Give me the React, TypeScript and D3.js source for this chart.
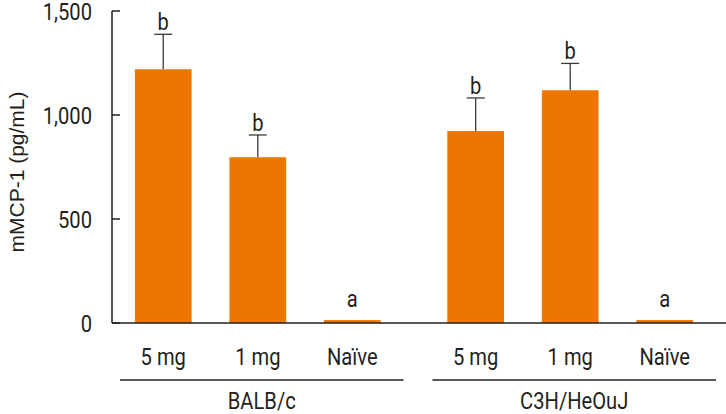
import React from "react";
import * as d3 from "d3";

const groups = ["BALB/c", "C3H/HeOuJ"];
const doses = ["5 mg", "1 mg", "Naïve"];
const meansBALB = [1220, 797, 14];
const meansC3H = [923, 1119, 14];
const semBALB = [168, 107, 0];
const semC3H = [159, 129, 0];
const lettersBALB = ["b", "b", "a"];
const lettersC3H = ["b", "b", "a"];
const yTicks = [0, 500, 1000, 1500];

const W = 726;
const H = 414;
const COND = "Roboto, 'Noto Sans', sans-serif";
const SANS = "'Liberation Sans', Arial, sans-serif";
const ORANGE = "#ED7600";
const INK = "#231f20";
const SX = 0.84;

function CText({ x, y, anchor = "middle", dy, size = 24, children }: any) {
  return (
    <text
      transform={`translate(${x},${y}) scale(${SX},1)`}
      dy={dy}
      textAnchor={anchor}
      fontFamily={COND}
      fontSize={size}
      fill={INK}
    >
      {children}
    </text>
  );
}

export default function App() {
  const y = d3.scaleLinear().domain([0, 1500]).range([323, 11]);
  const xGroup = d3.scaleBand<string>().domain(groups).range([116, 712]).paddingInner(0.0923).paddingOuter(0);
  const xDose = d3.scaleBand<string>().domain(doses).range([0, xGroup.bandwidth()]).paddingInner(0.4).paddingOuter(0.2);
  const axisX = 112;

  const data = groups.map((g, gi) => ({
    group: g,
    means: gi === 0 ? meansBALB : meansC3H,
    sems: gi === 0 ? semBALB : semC3H,
    letters: gi === 0 ? lettersBALB : lettersC3H,
  }));

  return (
    <svg width={W} height={H} style={{ position: "absolute", left: 0, top: 0, background: "#fff" }}>
      {data.map((d) =>
        doses.map((dose, i) => {
          const x0 = (xGroup(d.group) ?? 0) + (xDose(dose) ?? 0);
          const bw = xDose.bandwidth();
          const cx = x0 + bw / 2;
          const top = d.means[i] + d.sems[i];
          return (
            <g key={d.group + dose}>
              {d.sems[i] > 0 && (
                <g stroke="#3a3a3a" strokeWidth={1.3}>
                  <line x1={cx} x2={cx} y1={y(d.means[i])} y2={y(top)} />
                  <line x1={cx - 9} x2={cx + 9} y1={y(top)} y2={y(top)} />
                </g>
              )}
              <rect x={x0} y={y(d.means[i])} width={bw} height={y(0) - y(d.means[i])} fill={ORANGE} />
              <CText x={cx} y={y(top) - (d.sems[i] > 0 ? 4 : 13)}>{d.letters[i]}</CText>
              <CText x={cx} y={365}>{dose}</CText>
            </g>
          );
        })
      )}
      {groups.map((g) => {
        const gx = xGroup(g) ?? 0;
        return (
          <g key={g}>
            <line x1={gx + 4} x2={gx + xGroup.bandwidth() + 4} y1={380} y2={380} stroke={INK} strokeWidth={1.5} />
            <CText x={gx + xGroup.bandwidth() / 2 + 4} y={409}>{g}</CText>
          </g>
        );
      })}
      <line x1={axisX} x2={W} y1={y(0)} y2={y(0)} stroke={INK} strokeWidth={1.5} />
      <line x1={axisX} x2={axisX} y1={y(0)} y2={y(1500)} stroke={INK} strokeWidth={1.5} />
      {yTicks.map((t) => (
        <g key={t}>
          <line x1={axisX} x2={axisX + 8} y1={y(t)} y2={y(t)} stroke={INK} strokeWidth={1.5} />
          <CText x={92} y={y(t)} dy="0.36em" anchor="end">{d3.format(",")(t)}</CText>
        </g>
      ))}
      <text
        transform={`translate(24, ${(y(0) + y(1500)) / 2 + 5}) rotate(-90)`}
        textAnchor="middle"
        fontFamily={SANS}
        fontSize={21}
        fill={INK}
      >
        mMCP-1 (pg/mL)
      </text>
    </svg>
  );
}
